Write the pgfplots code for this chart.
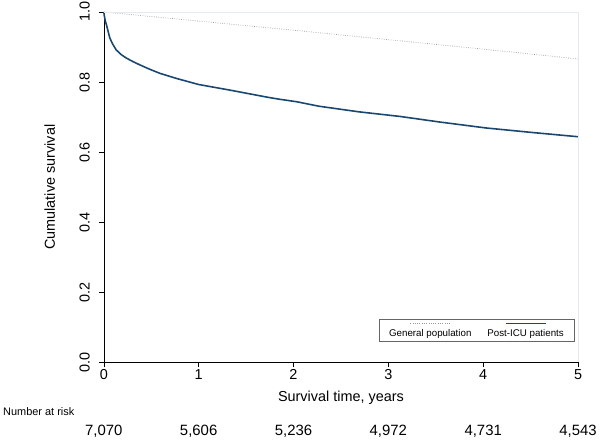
\documentclass[border=0pt]{standalone}
\usepackage{pgfplots}
\usepackage{pgfplotstable}
\pgfplotsset{compat=1.18}
\usepackage{fontspec}
\setmainfont{Liberation Sans}

\definecolor{statanavy}{RGB}{26,71,111}
\definecolor{frame}{RGB}{228,234,240}

% numbers at risk, placed under the x axis
\pgfplotstableread{
t   y        n
0   -0.1966  7,070
1   -0.1966  5,606
2   -0.1966  5,236
3   -0.1966  4,972
4   -0.1966  4,731
5   -0.1966  4,543
}\risk

\begin{document}
\begin{tikzpicture}
\begin{axis}[
    scale only axis,
    width=475bp, height=351bp,
    xmin=0, xmax=5, ymin=0, ymax=1,
    axis lines=left,
    axis line style={-, black, line width=0.6pt},
    clip=false,
    xtick={0,1,2,3,4,5},
    ytick={0,0.2,0.4,0.6,0.8,1.0},
    tick align=outside,
    major tick length=5bp,
    tick style={black, line width=0.6pt},
    /pgf/number format/assume math mode=true,
    yticklabel={\pgfmathprintnumber[fixed,fixed zerofill,precision=1]{\tick}},
    yticklabel style={rotate=90, anchor=south, inner sep=0pt, yshift=9bp},
    xticklabel style={anchor=north, inner sep=2bp},
    tick label style={font=\fontsize{14.5}{17}\selectfont},
    xlabel={Survival time, years},
    ylabel={Cumulative survival},
    every axis x label/.style={at={(axis description cs:0.5,-0.1)}, anchor=center,
        font=\fontsize{14.5}{17}\selectfont},
    every axis y label/.style={at={(axis description cs:-0.114,0.5)}, anchor=center, rotate=90,
        font=\fontsize{14.5}{17}\selectfont},
    legend columns=2,
    legend image code/.code={},
    legend style={
        at={(axis description cs:0.9916,0.06)}, anchor=south east,
        draw=black!60, line width=0.5pt,
        inner xsep=2bp, inner ysep=1bp,
        nodes={align=center, font=\fontsize{9.8}{12.5}\selectfont, inner xsep=8bp},
        /tikz/every even column/.style={column sep=0pt},
    },
]
\addplot[gray!80, line width=0.7pt, dash pattern=on 0.7pt off 1.6pt] coordinates {
    (0,1.000) (1,0.974) (2,0.948) (3,0.921) (4,0.894) (5,0.866)
};
\addlegendentry{\tikz\draw[gray!80, line width=0.7pt, dash pattern=on 0.7pt off 1.6pt] (0,0) -- (40bp,0);\\General population}

\addplot[statanavy, line width=1.6pt, line join=round] coordinates {
    (0,1.000) (0.005,0.990) (0.015,0.975) (0.028,0.963) (0.045,0.945)
    (0.063,0.926) (0.09,0.910) (0.13,0.892) (0.18,0.879) (0.24,0.868)
    (0.31,0.858) (0.38,0.849) (0.48,0.837) (0.59,0.825) (0.77,0.810)
    (1.00,0.793) (1.33,0.777) (1.72,0.757) (1.85,0.751) (2.03,0.744)
    (2.27,0.731) (2.69,0.715) (3.12,0.702) (3.54,0.686) (4.03,0.669)
    (4.52,0.656) (5.00,0.644)
};
\addlegendentry{\tikz\draw[statanavy, line width=1.6pt] (0,0) -- (40bp,0);\\Post-ICU patients}

\addplot[draw=none, forget plot, nodes near coords, point meta=explicit symbolic,
    every node near coord/.style={anchor=center, font=\fontsize{15}{18}\selectfont}]
    table[x=t, y=y, meta=n] {\risk};

\draw[frame, line width=0.6pt] (axis description cs:0,1) -- (axis description cs:1,1) -- (axis description cs:1,0);
\node[anchor=west, font=\fontsize{11}{13}\selectfont, inner sep=0pt] at (axis description cs:-0.2126,-0.1396) {Number at risk};
\end{axis}
\path[use as bounding box] (-104bp,-76bp) rectangle (496bp,363bp);
\end{tikzpicture}
\end{document}
